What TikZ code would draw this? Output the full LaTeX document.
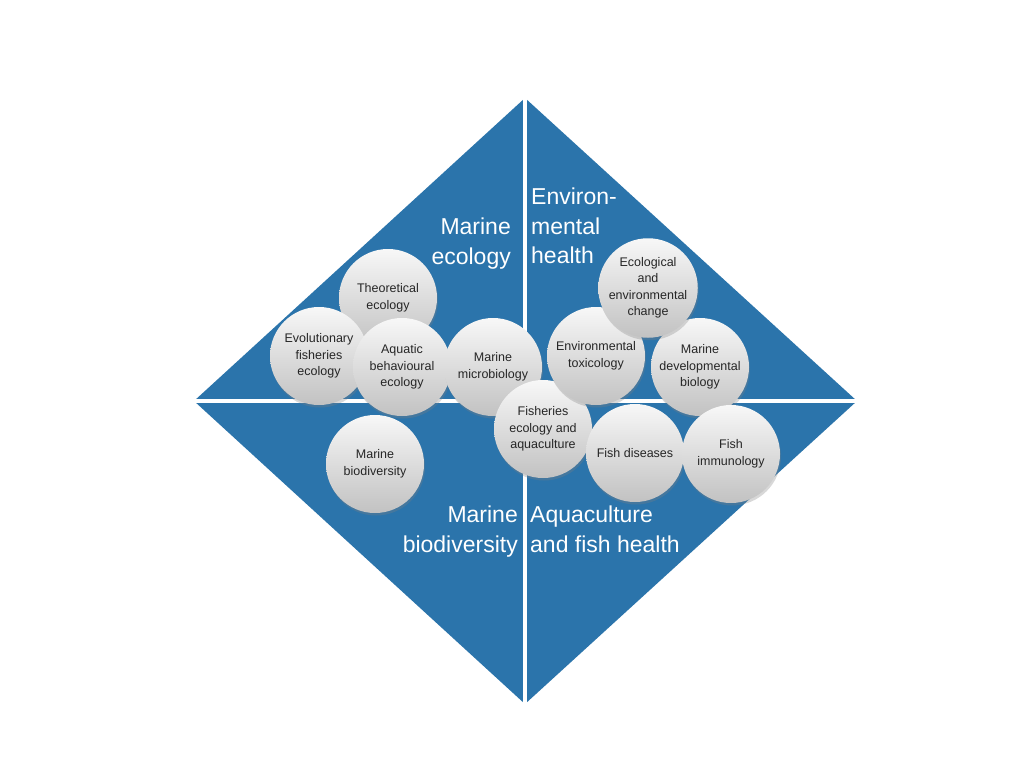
\documentclass[tikz,border=0pt]{standalone}
\usepackage{fontspec}
\setmainfont{Liberation Sans}
\usetikzlibrary{shadows}
\definecolor{seablue}{RGB}{43,116,171}
\definecolor{bubbleink}{RGB}{38,38,38}
\tikzset{
  bubble/.style={circle,minimum size=98pt,inner sep=0pt,align=center,
    top color=black!3,bottom color=black!24,text=bubbleink,
    font=\fontsize{12.5}{16.5}\selectfont,
    drop shadow={shadow xshift=1pt,shadow yshift=-2.5pt,opacity=0.3}},
  heading/.style={text=white,inner sep=0pt,font=\fontsize{23}{29.5}\selectfont}
}
\begin{document}
\begin{tikzpicture}[x=1pt,y=-1pt]
  \useasboundingbox (0,0) rectangle (1024,768);
  \fill[white] (0,0) rectangle (1024,768);
  \fill[seablue] (525,98)--(857,401)--(525,704)--(194,401)--cycle;
  \fill[white] (523,90) rectangle (527,712);
  \fill[white] (185,399) rectangle (866,403);
  \node[heading,align=right,anchor=north east] (ecohead) at (511,218) {Marine\\ecology};
  \node[heading,align=left,anchor=north west] (envhead) at (531,188) {Environ-\\mental\\health};
  \node[heading,align=right,anchor=north east] (biohead) at (518,506) {Marine\\biodiversity};
  \node[heading,align=left,anchor=north west] (aquahead) at (530,506) {Aquaculture\\and fish health};
  \node[bubble] (theo) at (388,298) {Theoretical\\ecology};
  \node[bubble] (evol) at (319,356) {Evolutionary\\fisheries\\ecology};
  \node[bubble] (aqua) at (402,367) {Aquatic\\behavioural\\ecology};
  \node[bubble] (micro) at (493,367) {Marine\\microbiology};
  \node[bubble] (biodiv) at (375,464) {Marine\\biodiversity};
  \node[bubble] (fishaq) at (543,429) {Fisheries\\ecology and\\aquaculture};
  \node[bubble] (tox) at (596,356) {Environmental\\toxicology};
  \node[bubble] (devel) at (700,367) {Marine\\developmental\\biology};
  \node[bubble] (change) at (648,288) {Ecological\\and\\environmental\\change};
  \node[bubble] (disease) at (635,453) {Fish diseases};
  \node[bubble] (immuno) at (731,454) {Fish\\immunology};
\end{tikzpicture}
\end{document}
